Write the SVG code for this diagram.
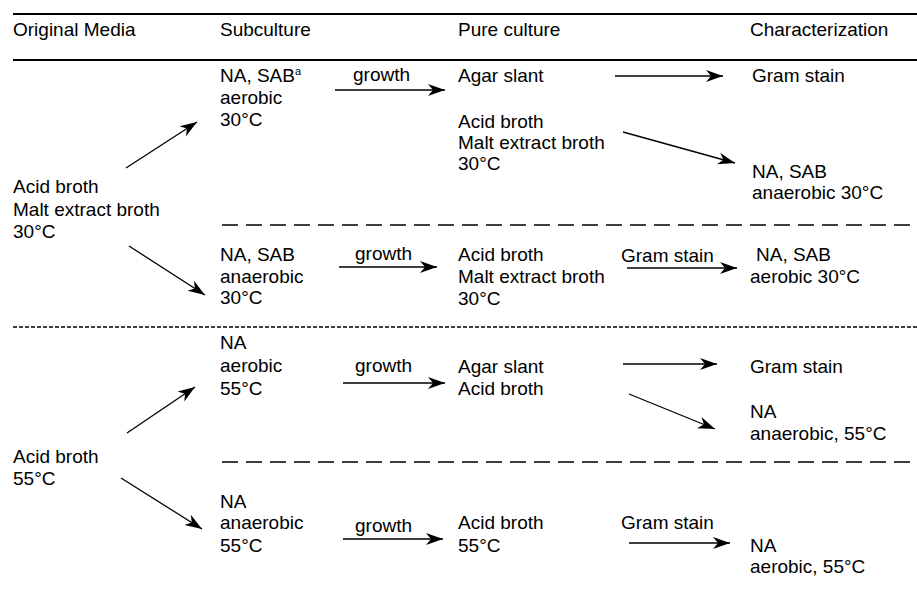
<svg xmlns="http://www.w3.org/2000/svg" width="917" height="591" viewBox="0 0 917 591">
<style>
text{font-family:"Liberation Sans",Arial,sans-serif;font-size:19px;fill:#000}
.rule{stroke:#000;stroke-width:2;fill:none}
.dl{stroke:#000;stroke-width:1.5;stroke-dasharray:16 8;fill:none}
.ds{stroke:#000;stroke-width:1.5;stroke-dasharray:4 2;fill:none}
.arr{stroke:#000;stroke-width:1.3;fill:none;marker-end:url(#ah)}
</style>
<defs>
<marker id="ah" markerUnits="userSpaceOnUse" markerWidth="20" markerHeight="16" refX="17" refY="8" orient="auto">
<path d="M0,2 L17,8 L0,14 L5,8 z" fill="#000"/>
</marker>
</defs>
<rect width="917" height="591" fill="#fff"/>
<g id="rules">
<line class="rule" x1="13" y1="14" x2="917" y2="14"/>
<line class="rule" x1="13" y1="60" x2="917" y2="60"/>
<line class="dl" x1="222" y1="225" x2="917" y2="225"/>
<line class="ds" x1="13" y1="327" x2="917" y2="327"/>
<line class="dl" x1="222" y1="462" x2="917" y2="462"/>
</g>
<g id="headers">
<text x="13" y="36">Original Media</text>
<text x="220" y="36">Subculture</text>
<text x="458" y="36">Pure culture</text>
<text x="750" y="36">Characterization</text>
</g>
<g id="orig30"><text x="13" y="193">Acid broth</text><text x="13" y="216">Malt extract broth</text><text x="13" y="238">30°C</text></g>
<g id="orig55"><text x="13" y="463">Acid broth</text><text x="13" y="485">55°C</text></g>
<g id="sub1"><text x="220" y="82">NA, SAB<tspan font-size="11" dy="-7">a</tspan></text><text x="220" y="104">aerobic</text><text x="220" y="126">30°C</text></g>
<g id="sub2"><text x="220" y="261">NA, SAB</text><text x="220" y="283">anaerobic</text><text x="220" y="304">30°C</text></g>
<g id="sub3"><text x="220" y="349">NA</text><text x="220" y="372">aerobic</text><text x="220" y="395">55°C</text></g>
<g id="sub4"><text x="220" y="508">NA</text><text x="220" y="529">anaerobic</text><text x="220" y="552">55°C</text></g>
<g id="pure1a"><text x="458" y="82">Agar slant</text></g>
<g id="pure1b"><text x="458" y="128">Acid broth</text><text x="458" y="149">Malt extract broth</text><text x="458" y="170">30°C</text></g>
<g id="pure2"><text x="458" y="261">Acid broth</text><text x="458" y="283">Malt extract broth</text><text x="458" y="305">30°C</text></g>
<g id="pure3"><text x="458" y="373">Agar slant</text><text x="458" y="395">Acid broth</text></g>
<g id="pure4"><text x="458" y="529">Acid broth</text><text x="458" y="552">55°C</text></g>
<g id="char1a"><text x="752" y="82">Gram stain</text></g>
<g id="char1b"><text x="752" y="178">NA, SAB</text><text x="752" y="199">anaerobic 30°C</text></g>
<g id="char2"><text x="756" y="261">NA, SAB</text><text x="750" y="283">aerobic 30°C</text></g>
<g id="char3a"><text x="750" y="373">Gram stain</text></g>
<g id="char3b"><text x="750" y="418">NA</text><text x="750" y="440">anaerobic, 55°C</text></g>
<g id="char4"><text x="750" y="552">NA</text><text x="750" y="573">aerobic, 55°C</text></g>
<g id="connectors">
<line class="arr" x1="126" y1="168" x2="197" y2="122"/>
<line class="arr" x1="129" y1="246" x2="205" y2="295"/>
<line class="arr" x1="127" y1="433" x2="195" y2="387"/>
<line class="arr" x1="121" y1="478" x2="202" y2="529"/>
<text x="353" y="81">growth</text>
<line class="arr" x1="335" y1="90" x2="445" y2="90"/>
<text x="355" y="260">growth</text>
<line class="arr" x1="339" y1="267" x2="437" y2="267"/>
<text x="355" y="372">growth</text>
<line class="arr" x1="343" y1="383" x2="445" y2="383"/>
<text x="355" y="532">growth</text>
<line class="arr" x1="343" y1="539" x2="443" y2="539"/>
<line class="arr" x1="615" y1="76" x2="723" y2="76"/>
<line class="arr" x1="623" y1="132" x2="735" y2="163"/>
<text x="621" y="262">Gram stain</text>
<line class="arr" x1="627" y1="268" x2="737" y2="268"/>
<line class="arr" x1="623" y1="364" x2="717" y2="364"/>
<line class="arr" x1="629" y1="394" x2="715" y2="429"/>
<text x="621" y="529">Gram stain</text>
<line class="arr" x1="629" y1="543" x2="730" y2="543"/>
</g>
</svg>
